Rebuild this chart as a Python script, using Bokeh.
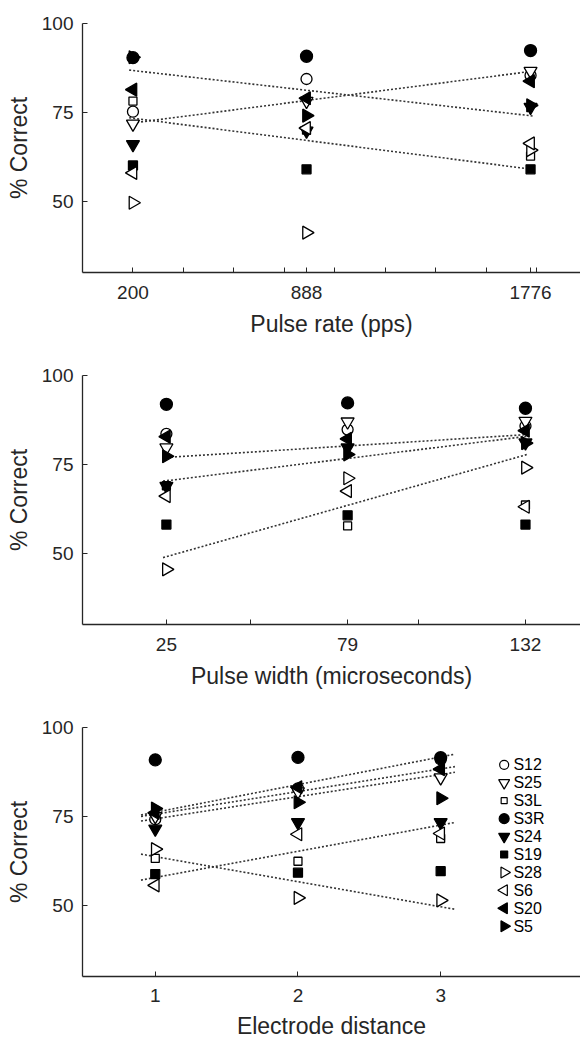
import math
from bokeh.plotting import figure
from bokeh.models import FixedTicker
from bokeh.core.properties import value
from bokeh.layouts import column
from bokeh.embed import file_html
from bokeh.resources import INLINE

subjects = ["S12", "S25", "S3L", "S3R", "S24", "S19", "S28", "S6", "S20", "S5"]

# Panel 1: pulse rate (pps)
rates = [200, 888, 1776]
rate_scores = {
    "S12": [75.2, 84.4, 85.4],
    "S25": [71.8, 78.2, 86.6],
    "S3L": [78.2, 70.0, 62.7],
    "S3R": [90.4, 90.8, 92.4],
    "S24": [66.0, 69.8, 76.5],
    "S19": [60.1, 59.0, 59.0],
    "S28": [49.6, 41.2, 64.4],
    "S6":  [58.0, 70.6, 66.3],
    "S20": [81.4, 79.0, 83.8],
    "S5":  [90.5, 74.1, 77.0],
}
rate_trend_x = [185, 1785]
rate_trends = [[86.9, 74.0], [73.5, 59.0], [71.9, 86.6]]

# Panel 2: pulse width (microseconds)
widths = [25, 79, 132]
width_scores = {
    "S12": [83.6, 84.8, 85.8],
    "S25": [79.7, 87.0, 87.2],
    "S3L": [69.0, 57.7, 63.6],
    "S3R": [91.9, 92.3, 90.8],
    "S24": [68.9, 79.7, 81.1],
    "S19": [58.1, 60.7, 58.1],
    "S28": [45.5, 71.1, 74.1],
    "S6":  [66.1, 67.5, 63.1],
    "S20": [82.8, 82.2, 84.5],
    "S5":  [77.3, 77.8, 81.0],
}
width_trend_x = [24, 132.5]
width_trends = [[76.9, 83.4], [70.3, 82.9], [48.8, 77.8]]

# Panel 3: electrode distance
distances = [1, 2, 3]
dist_scores = {
    "S12": [74.2, 82.9, 91.0],
    "S25": [75.0, 82.0, 85.9],
    "S3L": [63.2, 62.4, 68.8],
    "S3R": [90.9, 91.6, 91.5],
    "S24": [71.5, 73.3, 73.3],
    "S19": [58.8, 59.2, 59.6],
    "S28": [65.8, 52.1, 51.4],
    "S6":  [55.6, 70.0, 70.2],
    "S20": [76.0, 83.2, 88.3],
    "S5":  [77.2, 79.0, 80.1],
}
dist_trend_x = [0.9, 3.1]
dist_trends = [[75.4, 92.5], [75.0, 89.0], [73.7, 87.4], [57.1, 73.3], [64.4, 48.9]]

# marker styles: (marker, filled, angle, size)
styles = {
    "S12": ("circle", False, 0.0, 11),
    "S25": ("inverted_triangle", False, 0.0, 13),
    "S3L": ("square", False, 0.0, 8),
    "S3R": ("circle", True, 0.0, 12),
    "S24": ("inverted_triangle", True, 0.0, 13),
    "S19": ("square", True, 0.0, 9),
    "S28": ("triangle", False, -math.pi / 2, 13),
    "S6":  ("triangle", False, math.pi / 2, 13),
    "S20": ("triangle", True, math.pi / 2, 13),
    "S5":  ("triangle", True, -math.pi / 2, 13),
}

INK = "#262626"
FONT = "Liberation Sans"


def make_panel(xs, scores, trend_x, trends, x_range, ticks, minor, xlabel,
               height, border_top, border_bottom, tick_standoff=13,
               label_standoff=9, legend=False):
    p = figure(width=580, height=height, x_range=x_range, y_range=(30, 100),
               output_backend="svg", toolbar_location=None,
               min_border_left=82, min_border_right=0,
               min_border_top=border_top, min_border_bottom=border_bottom)
    p.outline_line_color = None
    p.grid.visible = False

    for vals in trends:
        p.line(trend_x, vals, line_color="#333333", line_width=1.6,
               line_dash="2 2")

    for s in subjects:
        marker, filled, angle, size = styles[s]
        p.scatter(xs, scores[s], marker=marker, angle=angle, size=size,
                  fill_color="black" if filled else "white",
                  line_color="black", line_width=1.3)

    p.xaxis.ticker = FixedTicker(ticks=ticks, minor_ticks=minor)
    p.yaxis.ticker = FixedTicker(ticks=[50, 75, 100], minor_ticks=[])
    for ax in (p.xaxis[0], p.yaxis[0]):
        ax.axis_line_color = INK
        ax.axis_line_width = 1.3
        ax.major_tick_line_color = INK
        ax.minor_tick_line_color = INK
        ax.major_tick_in = 5
        ax.major_tick_out = 0
        ax.minor_tick_in = 5
        ax.minor_tick_out = 0
        ax.major_label_text_font = FONT
        ax.major_label_text_font_size = "19px"
        ax.major_label_text_color = INK
        ax.axis_label_text_font = FONT
        ax.axis_label_text_font_size = "23px"
        ax.axis_label_text_font_style = "normal"
        ax.axis_label_text_color = INK
    p.xaxis.axis_label = xlabel
    p.xaxis.major_label_standoff = tick_standoff
    p.xaxis.axis_label_standoff = label_standoff
    p.yaxis.axis_label = "% Correct"
    p.yaxis.major_label_standoff = 9
    p.yaxis.axis_label_standoff = 7

    if legend:
        # legend laid out in data space of the right-hand empty area
        lx0, step, top = 3.445, 5.04, 89.5
        rows = [top - step * i for i in range(len(subjects))]
        for i, s in enumerate(subjects):
            marker, filled, angle, size = styles[s]
            p.scatter([lx0], [rows[i]], marker=marker, angle=angle,
                      size=size - 2,
                      fill_color="black" if filled else "white",
                      line_color="black", line_width=1.2)
        p.text([lx0 + 0.065] * len(subjects), rows, text=subjects,
               text_font=value(FONT), text_font_size="16px",
               text_baseline="middle", text_align="left", text_color="black")
    return p


p1 = make_panel(rates, rate_scores, rate_trend_x, rate_trends, (0, 1974),
                [200, 888, 1776], [400, 600, 800, 1000, 1200, 1400, 1600, 1800],
                "Pulse rate (pps)", 358, 23, 86)
p2 = make_panel(widths, width_scores, width_trend_x, width_trends, (0, 148.4),
                [25, 79, 132], [50, 100],
                "Pulse width (microseconds)", 352, 17, 86)
p3 = make_panel(distances, dist_scores, dist_trend_x, dist_trends, (0.49, 3.98),
                [1, 2, 3], [],
                "Electrode distance", 332, 17, 66, tick_standoff=12,
                label_standoff=8, legend=True)

layout = column(p1, p2, p3, spacing=0)
open("out.html", "w").write(file_html(layout, INLINE))
